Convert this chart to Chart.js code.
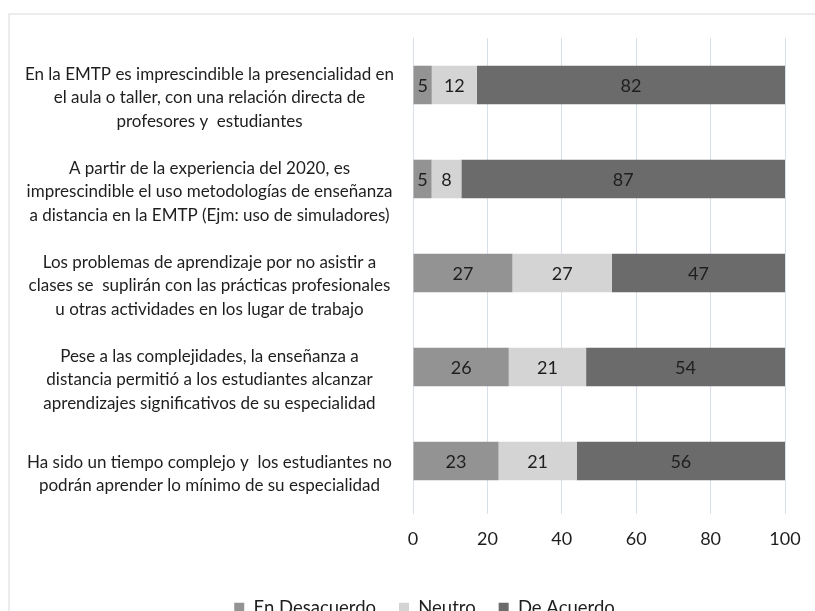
<!DOCTYPE html>
<html>
<head>
<meta charset="utf-8">
<script src="https://cdn.jsdelivr.net/npm/chart.js@4/dist/chart.umd.min.js"></script>
<style>
  html, body { margin: 0; padding: 0; background: #fff; overflow: hidden; }
  #frame { position: absolute; left: 8px; top: 13px; right: -5px; bottom: -5px;
           border-top: 2px solid #ececef; border-left: 2px solid #ececef; }
  #wrap { position: absolute; left: 0; top: 0; width: 815px; height: 627px; }
</style>
</head>
<body>
<div id="frame"></div>
<div id="wrap"><canvas id="myChart"></canvas></div>
<script>
// preguntas (etiquetas del eje y)
const categories = [
  ["En la EMTP es imprescindible la presencialidad en", "el aula o taller, con una relación directa de", "profesores y  estudiantes"],
  ["A partir de la experiencia del 2020, es", "imprescindible el uso metodologías de enseñanza", "a distancia en la EMTP (Ejm: uso de simuladores)"],
  ["Los problemas de aprendizaje por no asistir a", "clases se  suplirán con las prácticas profesionales", "u otras actividades en los lugar de trabajo"],
  ["Pese a las complejidades, la enseñanza a", "distancia permitió a los estudiantes alcanzar", "aprendizajes significativos de su especialidad"],
  ["Ha sido un tiempo complejo y  los estudiantes no", "podrán aprender lo mínimo de su especialidad"]
];
const seriesNames = ["En Desacuerdo", "Neutro", "De Acuerdo"];
const enDesacuerdo = [5, 5, 27, 26, 23];
const neutro = [12, 8, 27, 21, 21];
const deAcuerdo = [82, 87, 47, 54, 56];
const xTicks = [0, 20, 40, 60, 80, 100];

const colors = ["#939393", "#d4d4d4", "#6b6b6b"];
const raw = [enDesacuerdo, neutro, deAcuerdo];
const fontFam = "Lato, 'Open Sans', sans-serif";

// barra 100% apilada (como Excel)
const totals = categories.map((c, i) => raw.reduce((s, a) => s + a[i], 0));
const datasets = raw.map((arr, k) => ({
  label: seriesNames[k],
  data: arr.map((v, i) => v / totals[i] * 100),
  rawValues: arr,
  backgroundColor: colors[k],
  borderWidth: 0,
  categoryPercentage: 1,
  barPercentage: 0.41,
}));

// etiquetas de valores dentro de las barras
const valueLabels = {
  id: "valueLabels",
  afterDatasetsDraw(chart) {
    const ctx = chart.ctx;
    ctx.save();
    ctx.font = "18px " + fontFam;
    ctx.fillStyle = "#1e1e1e";
    ctx.textAlign = "center";
    ctx.textBaseline = "middle";
    chart.data.datasets.forEach((ds, di) => {
      const meta = chart.getDatasetMeta(di);
      meta.data.forEach((bar, i) => {
        const p = bar.getCenterPoint();
        ctx.fillText(ds.rawValues[i], p.x, p.y + 1);
      });
    });
    ctx.restore();
  },
};

// la leyenda del original está algo corrida a la derecha
const legendShift = {
  id: "legendShift",
  afterLayout(chart) {
    const lg = chart.legend;
    lg.left += 26; lg.right += 26;
    lg.top += 4; lg.bottom += 4;
  },
};

new Chart(document.getElementById("myChart").getContext("2d"), {
  type: "bar",
  data: { labels: categories, datasets: datasets },
  plugins: [valueLabels, legendShift],
  options: {
    indexAxis: "y",
    responsive: true,
    maintainAspectRatio: false,
    animation: false,
    layout: { padding: { top: 38, right: 30, left: 12, bottom: 4 } },
    scales: {
      x: {
        stacked: true,
        min: 0,
        max: 100,
        afterBuildTicks: (s) => { s.ticks = xTicks.map((v) => ({ value: v })); },
        afterFit: (s) => { s.height += 8; },
        grid: { color: "#d9dfe8", tickLength: 6, drawTicks: true },
        border: { display: false },
        ticks: { color: "#1e1e1e", padding: 14, font: { family: fontFam, size: 18 } },
      },
      y: {
        stacked: true,
        afterFit: (s) => { s.width = 401; },
        grid: { display: false },
        border: { display: true, color: "#d9dfe8" },
        ticks: {
          color: "#1e1e1e",
          crossAlign: "center",
          padding: 11,
          labelOffset: 13,
          font: { family: fontFam, size: 17, lineHeight: 1.36 },
        },
      },
    },
    plugins: {
      legend: {
        position: "bottom",
        labels: {
          color: "#1e1e1e",
          boxWidth: 10,
          boxHeight: 10,
          padding: 23,
          font: { family: fontFam, size: 18.5 },
        },
      },
      tooltip: { enabled: false },
    },
  },
});
</script>
</body>
</html>
